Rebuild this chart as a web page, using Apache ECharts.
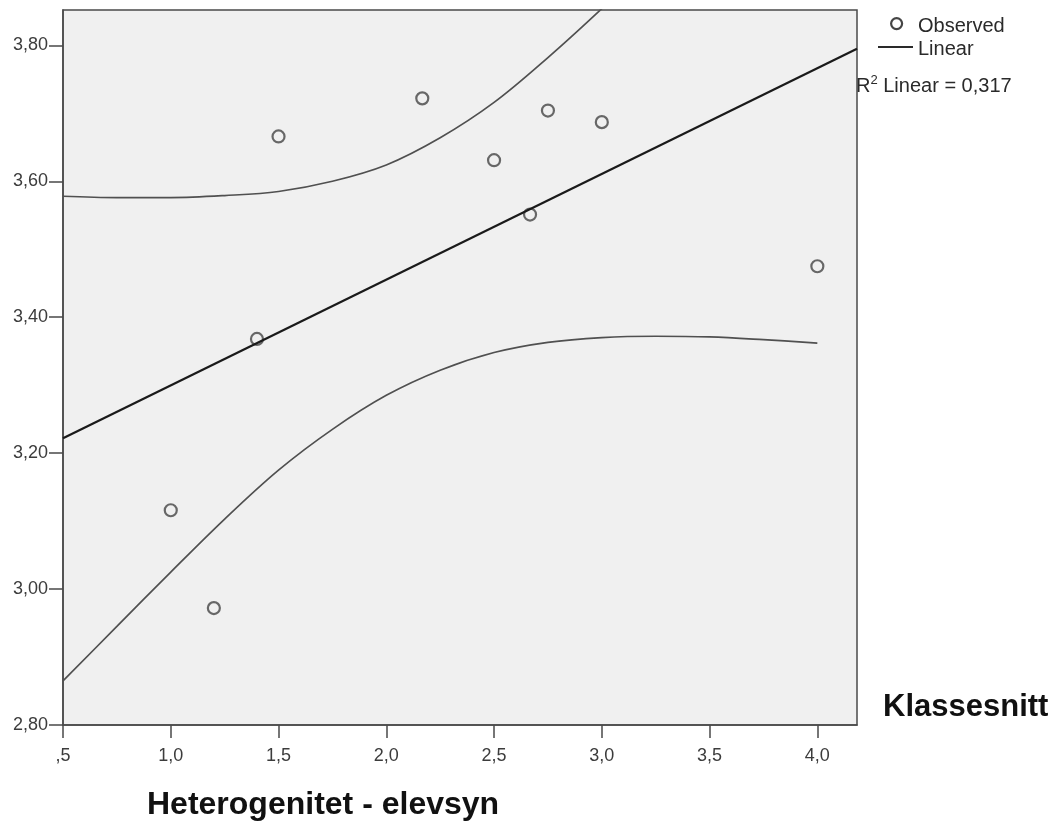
<!DOCTYPE html>
<html>
<head>
<meta charset="utf-8">
<script src="https://cdn.jsdelivr.net/npm/echarts@6/dist/echarts.min.js"></script>
<style>
  html, body { margin: 0; padding: 0; background: #ffffff; }
  #chart { width: 1054px; height: 825px; }
</style>
</head>
<body>
<div id="chart"></div>
<script>
// Observed class means
const observedX = [1.0, 1.2, 1.4, 1.5, 2.167, 2.5, 2.667, 2.75, 3.0, 4.0];
const observedY = [3.116, 2.972, 3.368, 3.666, 3.722, 3.631, 3.551, 3.704, 3.687, 3.475];

// Linear fit (R² = 0,317), drawn across the x range
const fitX = [0.5, 4.184];
const fitY = [3.222, 3.795];

// 95 % confidence band around the fitted line
const upperX = [0.5, 0.75, 1.0, 1.25, 1.5, 1.75, 2.0, 2.25, 2.5, 2.75, 3.0, 3.25];
const upperY = [3.578, 3.576, 3.576, 3.579, 3.585, 3.600, 3.624, 3.664, 3.716, 3.782, 3.854, 3.930];
const lowerX = [0.5, 0.75, 1.0, 1.25, 1.5, 1.75, 2.0, 2.25, 2.5, 2.75, 3.0, 3.25, 3.5, 3.75, 4.0];
const lowerY = [2.865, 2.945, 3.025, 3.103, 3.175, 3.235, 3.285, 3.322, 3.348, 3.363, 3.370, 3.372, 3.371, 3.367, 3.362];

// Axis ticks
const xTicks = [0.5, 1.0, 1.5, 2.0, 2.5, 3.0, 3.5, 4.0];
const yTicks = [2.8, 3.0, 3.2, 3.4, 3.6, 3.8];
const xRange = [0.5, 4.184];
const yRange = [2.8, 3.852];

const rSquared = '0,317';

const pairs = (xs, ys) => xs.map((x, i) => [x, ys[i]]);

// Comma decimals, no leading zero (",5")
const fmtX = v => {
  let s = v.toFixed(1).replace('.', ',');
  if (s.startsWith('0,')) s = s.slice(1);
  return s;
};
const fmtY = v => v.toFixed(2).replace('.', ',');

const font = '"Liberation Sans", Arial, sans-serif';
const frame = '#4a4a4a';

const chart = echarts.init(document.getElementById('chart'), null, { renderer: 'canvas' });

chart.setOption({
  animation: false,
  backgroundColor: '#ffffff',
  grid: {
    left: 63, right: 197, top: 10, bottom: 100,
    show: true,
    backgroundColor: '#f0f0f0',
    borderColor: frame,
    borderWidth: 1.5
  },
  xAxis: {
    type: 'value',
    min: xRange[0], max: xRange[1],
    splitLine: { show: false },
    axisLine: { show: true, onZero: false, lineStyle: { color: frame, width: 1.5 } },
    axisTick: { show: true, length: 13, customValues: xTicks, lineStyle: { color: frame, width: 1.5 } },
    axisLabel: {
      customValues: xTicks,
      formatter: fmtX,
      margin: 22,
      color: '#3c3c3c',
      fontFamily: font,
      fontSize: 18
    }
  },
  yAxis: {
    type: 'value',
    min: yRange[0], max: yRange[1],
    splitLine: { show: false },
    axisLine: { show: true, onZero: false, lineStyle: { color: frame, width: 1.5 } },
    axisTick: { show: true, length: 14, customValues: yTicks, lineStyle: { color: frame, width: 1.5 } },
    axisLabel: {
      customValues: yTicks,
      formatter: fmtY,
      margin: 15,
      color: '#3c3c3c',
      fontFamily: font,
      fontSize: 18
    }
  },
  series: [
    {
      name: 'Upper',
      type: 'line',
      data: pairs(upperX, upperY),
      smooth: 0.35,
      showSymbol: false,
      clip: true,
      lineStyle: { color: '#505050', width: 1.7 },
      z: 2
    },
    {
      name: 'Lower',
      type: 'line',
      data: pairs(lowerX, lowerY),
      smooth: 0.35,
      showSymbol: false,
      clip: true,
      lineStyle: { color: '#505050', width: 1.7 },
      z: 2
    },
    {
      name: 'Observed',
      type: 'scatter',
      data: pairs(observedX, observedY),
      symbol: 'circle',
      symbolSize: 12,
      itemStyle: { color: 'rgba(0,0,0,0)', borderColor: '#454545', borderWidth: 2.2 },
      z: 3
    },
    {
      name: 'Linear',
      type: 'line',
      data: pairs(fitX, fitY),
      showSymbol: false,
      clip: true,
      lineStyle: { color: '#1a1a1a', width: 2.2 },
      z: 4
    }
  ],
  graphic: [
    // Legend
    {
      type: 'circle', left: 890, top: 17, z: 10,
      shape: { r: 5.5 },
      style: { fill: 'rgba(0,0,0,0)', stroke: '#454545', lineWidth: 2.2 }
    },
    {
      type: 'text', left: 918, top: 16, z: 10,
      style: { text: 'Observed', fill: '#2a2a2a', font: '20px ' + font }
    },
    {
      type: 'line', z: 10,
      shape: { x1: 878, y1: 47, x2: 913, y2: 47 },
      style: { stroke: '#2a2a2a', lineWidth: 2 }
    },
    {
      type: 'text', left: 918, top: 39, z: 10,
      style: { text: 'Linear', fill: '#2a2a2a', font: '20px ' + font }
    },
    {
      type: 'text', left: 856, top: 74, z: 10,
      style: {
        text: '{r|R}{sup|2}{r| Linear = ' + rSquared + '}',
        rich: {
          r: { fill: '#2a2a2a', font: '20px ' + font, verticalAlign: 'bottom' },
          sup: { fill: '#2a2a2a', font: '13px ' + font, verticalAlign: 'top', padding: [0, 0, 9, 0] }
        }
      }
    },
    // Axis titles
    {
      type: 'text', left: 883, top: 692, z: 10,
      style: { text: 'Klassesnitt', fill: '#111111', font: 'bold 31px ' + font }
    },
    {
      type: 'text', left: 147, top: 789, z: 10,
      style: { text: 'Heterogenitet - elevsyn', fill: '#111111', font: 'bold 32px ' + font }
    }
  ]
});
</script>
</body>
</html>
